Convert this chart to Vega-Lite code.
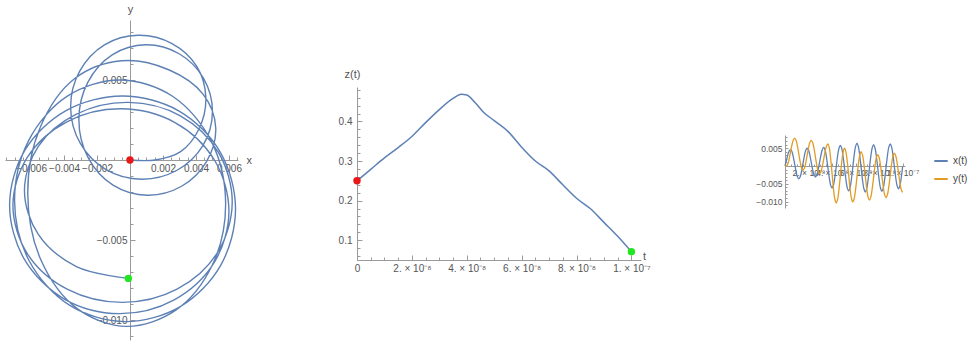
{
  "$schema": "https://vega.github.io/schema/vega-lite/v6.json",
  "padding": {"left": 5, "top": 3, "right": 0, "bottom": 0},
  "spacing": 0,
  "bounds": "flush",
  "config": {
    "view": {"stroke": null},
    "font": "Liberation Sans",
    "axis": {"grid": false, "labelFlush": false, "labelOverlap": false, "domainColor": "#9a9a9a", "tickColor": "#9a9a9a", "labelColor": "#555555", "titleColor": "#555555", "labelFont": "Liberation Sans", "titleFont": "Liberation Sans", "titleFontWeight": "normal", "labelFontSize": 10, "titleFontSize": 11, "tickWidth": 1, "domainWidth": 1},
    "legend": {"labelFont": "Liberation Sans", "labelColor": "#444444"}
  },
  "datasets": {
    "traj": [
      {"t": 0, "x": 0, "y": 0},
      {"t": 1.176e-9, "x": 0.001535, "y": 0},
      {"t": 2.353e-9, "x": 0.00307, "y": 0.00052},
      {"t": 3.529e-9, "x": 0.00419, "y": 0.00195},
      {"t": 4.706e-9, "x": 0.0046, "y": 0.0039},
      {"t": 5.882e-9, "x": 0.00405, "y": 0.00585},
      {"t": 7.059e-9, "x": 0.00255, "y": 0.00728},
      {"t": 8.235e-9, "x": 0.0005, "y": 0.0078},
      {"t": 9.412e-9, "x": -0.00155, "y": 0.0072},
      {"t": 1.059e-8, "x": -0.00305, "y": 0.00555},
      {"t": 1.176e-8, "x": -0.0036, "y": 0.0033},
      {"t": 1.294e-8, "x": -0.00302, "y": 0.00105},
      {"t": 1.412e-8, "x": -0.00145, "y": -0.0006},
      {"t": 1.529e-8, "x": 0.0007, "y": -0.0012},
      {"t": 1.647e-8, "x": 0.00285, "y": -0.00064},
      {"t": 1.765e-8, "x": 0.00442, "y": 0.0009},
      {"t": 1.882e-8, "x": 0.005, "y": 0.003},
      {"t": 2.0e-8, "x": 0.00446, "y": 0.0051},
      {"t": 2.118e-8, "x": 0.00298, "y": 0.00664},
      {"t": 2.235e-8, "x": 0.00095, "y": 0.0072},
      {"t": 2.353e-8, "x": -0.00108, "y": 0.00657},
      {"t": 2.471e-8, "x": -0.00256, "y": 0.00485},
      {"t": 2.588e-8, "x": -0.0031, "y": 0.0025},
      {"t": 2.706e-8, "x": -0.00254, "y": 0.00015},
      {"t": 2.824e-8, "x": -0.00103, "y": -0.00157},
      {"t": 2.941e-8, "x": 0.00105, "y": -0.0022},
      {"t": 3.059e-8, "x": 0.00313, "y": -0.00164},
      {"t": 3.176e-8, "x": 0.00464, "y": -0.0001},
      {"t": 3.294e-8, "x": 0.0052, "y": 0.002},
      {"t": 3.412e-8, "x": 0.00444, "y": 0.0041},
      {"t": 3.529e-8, "x": 0.00235, "y": 0.00564},
      {"t": 3.647e-8, "x": -0.0005, "y": 0.0062},
      {"t": 3.765e-8, "x": -0.00335, "y": 0.00509},
      {"t": 3.882e-8, "x": -0.00544, "y": 0.00205},
      {"t": 4.0e-8, "x": -0.0062, "y": -0.0021},
      {"t": 4.118e-8, "x": -0.0054, "y": -0.00625},
      {"t": 4.235e-8, "x": -0.0032, "y": -0.00929},
      {"t": 4.353e-8, "x": -0.0002, "y": -0.0104},
      {"t": 4.471e-8, "x": 0.0028, "y": -0.00937},
      {"t": 4.588e-8, "x": 0.005, "y": -0.00655},
      {"t": 4.706e-8, "x": 0.0058, "y": -0.0027},
      {"t": 4.824e-8, "x": 0.00494, "y": 0.00115},
      {"t": 4.941e-8, "x": 0.0026, "y": 0.00397},
      {"t": 5.059e-8, "x": -0.0006, "y": 0.005},
      {"t": 5.176e-8, "x": -0.0038, "y": 0.00399},
      {"t": 5.294e-8, "x": -0.00614, "y": 0.00123},
      {"t": 5.412e-8, "x": -0.007, "y": -0.00255},
      {"t": 5.529e-8, "x": -0.0061, "y": -0.00633},
      {"t": 5.647e-8, "x": -0.00365, "y": -0.00909},
      {"t": 5.765e-8, "x": -0.0003, "y": -0.0101},
      {"t": 5.882e-8, "x": 0.00305, "y": -0.00916},
      {"t": 6.0e-8, "x": 0.0055, "y": -0.00658},
      {"t": 6.118e-8, "x": 0.0064, "y": -0.00305},
      {"t": 6.235e-8, "x": 0.00548, "y": 0.00048},
      {"t": 6.353e-8, "x": 0.00298, "y": 0.00306},
      {"t": 6.471e-8, "x": -0.00045, "y": 0.004},
      {"t": 6.588e-8, "x": -0.00388, "y": 0.00309},
      {"t": 6.706e-8, "x": -0.00638, "y": 0.0006},
      {"t": 6.824e-8, "x": -0.0073, "y": -0.0028},
      {"t": 6.941e-8, "x": -0.00641, "y": -0.0062},
      {"t": 7.059e-8, "x": -0.00398, "y": -0.00869},
      {"t": 7.176e-8, "x": -0.00065, "y": -0.0096},
      {"t": 7.294e-8, "x": 0.00268, "y": -0.00874},
      {"t": 7.412e-8, "x": 0.00511, "y": -0.0064},
      {"t": 7.529e-8, "x": 0.006, "y": -0.0032},
      {"t": 7.647e-8, "x": 0.00512, "y": 0},
      {"t": 7.765e-8, "x": 0.00273, "y": 0.00234},
      {"t": 7.882e-8, "x": -0.00055, "y": 0.0032},
      {"t": 8.0e-8, "x": -0.00383, "y": 0.00239},
      {"t": 8.118e-8, "x": -0.00622, "y": 0.00018},
      {"t": 8.235e-8, "x": -0.0071, "y": -0.00285},
      {"t": 8.353e-8, "x": -0.00621, "y": -0.00588},
      {"t": 8.471e-8, "x": -0.00378, "y": -0.00809},
      {"t": 8.588e-8, "x": -0.00045, "y": -0.0089},
      {"t": 8.706e-8, "x": 0.00288, "y": -0.00806},
      {"t": 8.824e-8, "x": 0.00531, "y": -0.00578},
      {"t": 8.941e-8, "x": 0.0062, "y": -0.00265},
      {"t": 9.059e-8, "x": 0.00536, "y": 0.00048},
      {"t": 9.176e-8, "x": 0.00305, "y": 0.00276},
      {"t": 9.294e-8, "x": -0.0001, "y": 0.0036},
      {"t": 9.412e-8, "x": -0.00325, "y": 0.00286},
      {"t": 9.529e-8, "x": -0.00556, "y": 0.00085},
      {"t": 9.647e-8, "x": -0.0064, "y": -0.0019},
      {"t": 9.765e-8, "x": -0.00556, "y": -0.00465},
      {"t": 9.882e-8, "x": -0.00325, "y": -0.00666},
      {"t": 1.0e-7, "x": -0.0001, "y": -0.0074}
    ],
    "zdata": [
      {"t": 0, "z": 0.25},
      {"t": 5e-9, "z": 0.279},
      {"t": 1e-8, "z": 0.308},
      {"t": 1.5e-8, "z": 0.334},
      {"t": 2e-8, "z": 0.362},
      {"t": 2.5e-8, "z": 0.397},
      {"t": 3e-8, "z": 0.43},
      {"t": 3.5e-8, "z": 0.458},
      {"t": 3.8e-8, "z": 0.469},
      {"t": 4e-8, "z": 0.467},
      {"t": 4.3e-8, "z": 0.448},
      {"t": 4.6e-8, "z": 0.424},
      {"t": 5e-8, "z": 0.402},
      {"t": 5.5e-8, "z": 0.375},
      {"t": 6e-8, "z": 0.335},
      {"t": 6.5e-8, "z": 0.3},
      {"t": 7e-8, "z": 0.275},
      {"t": 7.5e-8, "z": 0.24},
      {"t": 8e-8, "z": 0.206},
      {"t": 8.5e-8, "z": 0.18},
      {"t": 9e-8, "z": 0.145},
      {"t": 9.5e-8, "z": 0.11},
      {"t": 1e-7, "z": 0.071}
    ]
  },
  "hconcat": [
    {
      "width": 233,
      "height": 320,
      "encoding": {
        "x": {"field": "x", "type": "quantitative", "scale": {"domain": [-0.00758, 0.00655], "zero": false, "nice": false},
          "axis": {"orient": "bottom", "offset": -180, "labelOverlap": false,
            "values": [-0.0075,-0.007,-0.0065,-0.006,-0.0055,-0.005,-0.0045,-0.004,-0.0035,-0.003,-0.0025,-0.002,-0.0015,-0.001,-0.0005,0.0005,0.001,0.0015,0.002,0.0025,0.003,0.0035,0.004,0.0045,0.005,0.0055,0.006,0.0065],
            "format": ".3f",
            "labelExpr": "round(datum.value*10000) != 0 && round(datum.value*10000) % 20 == 0 ? datum.label : ''",
            "tickSize": {"condition": {"test": "round(datum.value*10000) % 20 == 0", "value": -5}, "value": -3},
            "labelPadding": 8,
            "title": "x", "titleX": 241, "titleY": 0, "titleBaseline": "middle", "titleAlign": "left"}},
        "y": {"field": "y", "type": "quantitative", "scale": {"domain": [-0.01125, 0.00875], "zero": false, "nice": false},
          "axis": {"orient": "left", "offset": -125, "labelOverlap": false,
            "values": [-0.011,-0.01,-0.009,-0.008,-0.007,-0.006,-0.005,-0.004,-0.003,-0.002,-0.001,0.001,0.002,0.003,0.004,0.005,0.006,0.007,0.008],
            "format": ".3f",
            "labelExpr": "round(datum.value*1000) != 0 && round(datum.value*1000) % 5 == 0 ? datum.label : ''",
            "tickSize": {"condition": {"test": "round(datum.value*1000) % 5 == 0", "value": -5}, "value": -3},
            "labelPadding": 8,
            "title": "y", "titleAngle": 0, "titleX": 0, "titleY": -6, "titleBaseline": "bottom", "titleAlign": "center"}}
      },
      "layer": [
        {
          "data": {"name": "traj"},
          "mark": {"type": "line", "interpolate": "catmull-rom", "color": "#5E81B5", "strokeWidth": 1.4},
          "encoding": {"order": {"field": "t", "type": "quantitative"}}
        },
        {
          "data": {"values": [{"x": 0, "y": 0}]},
          "mark": {"type": "circle", "color": "#e81818", "size": 55, "opacity": 1}
        },
        {
          "data": {"values": [{"x": -0.0001, "y": -0.0074}]},
          "mark": {"type": "circle", "color": "#22e622", "size": 55, "opacity": 1}
        }
      ]
    },
    {
      "width": 119, "height": 10,
      "data": {"values": [{"a": 1}]},
      "mark": {"type": "point", "opacity": 0},
      "encoding": {}
    },
    {
      "vconcat": [
        {
          "width": 10, "height": 67,
          "data": {"values": [{"a": 1}]},
          "mark": {"type": "point", "opacity": 0},
          "encoding": {}
        },
        {
          "width": 284,
          "height": 173,
          "encoding": {
            "x": {"field": "t", "type": "quantitative", "scale": {"domain": [0, 1.035e-7], "zero": false, "nice": false},
              "axis": {"orient": "bottom", "labelOverlap": false,
                "values": [0,5e-9,1e-8,1.5e-8,2e-8,2.5e-8,3e-8,3.5e-8,4e-8,4.5e-8,5e-8,5.5e-8,6e-8,6.5e-8,7e-8,7.5e-8,8e-8,8.5e-8,9e-8,9.5e-8,1e-7],
                "labelExpr": "round(datum.value*1e9) == 0 ? '0' : round(datum.value*1e9) == 100 ? '1. × 10⁻⁷' : round(datum.value*1e9) % 20 == 0 ? (round(datum.value*1e9)/10) + '. × 10⁻⁸' : ''",
                "tickSize": {"condition": {"test": "round(datum.value*1e9) % 20 == 0", "value": -5}, "value": -3},
                "labelPadding": 8,
                "title": "t", "titleX": 287, "titleY": -4, "titleBaseline": "middle", "titleAlign": "center"}},
            "y": {"field": "z", "type": "quantitative", "scale": {"domain": [0.05, 0.487], "zero": false, "nice": false},
              "axis": {"orient": "left", "labelOverlap": false,
                "values": [0.06,0.08,0.1,0.12,0.14,0.16,0.18,0.2,0.22,0.24,0.26,0.28,0.3,0.32,0.34,0.36,0.38,0.4,0.42,0.44,0.46,0.48],
                "format": ".1f",
                "labelExpr": "round(datum.value*100) % 10 == 0 ? datum.label : ''",
                "tickSize": {"condition": {"test": "round(datum.value*100) % 10 == 0", "value": -5}, "value": -3},
                "labelPadding": 10,
                "title": "z(t)", "titleAngle": 0, "titleX": -5, "titleY": -13, "titleBaseline": "middle", "titleAlign": "center"}}
          },
          "layer": [
            {
              "data": {"name": "zdata"},
              "mark": {"type": "line", "interpolate": "monotone", "color": "#5E81B5", "strokeWidth": 1.5}
            },
            {
              "data": {"values": [{"t": 0, "z": 0.25}]},
              "mark": {"type": "circle", "color": "#e81818", "size": 55, "opacity": 1}
            },
            {
              "data": {"values": [{"t": 1e-7, "z": 0.071}]},
              "mark": {"type": "circle", "color": "#22e622", "size": 55, "opacity": 1}
            }
          ]
        }
      ],
      "spacing": 0,
      "bounds": "flush"
    },
    {
      "width": 428, "height": 10,
      "data": {"values": [{"a": 1}]},
      "mark": {"type": "point", "opacity": 0},
      "encoding": {}
    },
    {
      "vconcat": [
        {
          "width": 10, "height": 115,
          "data": {"values": [{"a": 1}]},
          "mark": {"type": "point", "opacity": 0},
          "encoding": {}
        },
        {
          "width": 120,
          "height": 73,
          "data": {"name": "traj"},
          "transform": [{"fold": ["x", "y"], "as": ["series", "value"]}],
          "mark": {"type": "line", "interpolate": "catmull-rom", "strokeWidth": 1.3},
          "encoding": {
            "x": {"field": "t", "type": "quantitative", "scale": {"domain": [0, 1.02e-7], "zero": false, "nice": false},
              "axis": {"orient": "bottom", "offset": -42, "labelOverlap": false,
                "values": [5e-9,1e-8,1.5e-8,2e-8,2.5e-8,3e-8,3.5e-8,4e-8,4.5e-8,5e-8,5.5e-8,6e-8,6.5e-8,7e-8,7.5e-8,8e-8,8.5e-8,9e-8,9.5e-8,1e-7],
                "labelExpr": "round(datum.value*1e9) == 100 ? '1. × 10⁻⁷' : round(datum.value*1e9) % 20 == 0 ? (round(datum.value*1e9)/10) + '. × 10⁻⁸' : ''",
                "tickSize": {"condition": {"test": "round(datum.value*1e9) % 20 == 0", "value": -3}, "value": -2},
                "labelPadding": 5, "labelFontSize": 8.5,
                "title": null}},
            "y": {"field": "value", "type": "quantitative", "scale": {"domain": [-0.0118, 0.0087], "zero": false, "nice": false},
              "axis": {"orient": "left", "labelOverlap": false,
                "values": [-0.011,-0.01,-0.009,-0.008,-0.007,-0.006,-0.005,-0.004,-0.003,-0.002,-0.001,0.001,0.002,0.003,0.004,0.005,0.006,0.007,0.008],
                "labelExpr": "round(datum.value*1000) != 0 && round(datum.value*1000) % 5 == 0 ? format(datum.value, '.3f') : ''",
                "tickSize": {"condition": {"test": "round(datum.value*1000) % 5 == 0", "value": -3}, "value": -2},
                "labelPadding": 6, "labelFontSize": 8.5,
                "title": null}},
            "color": {"field": "series", "type": "nominal", "scale": {"domain": ["x", "y"], "range": ["#5E81B5", "#E19C24"]},
              "legend": {"title": null, "orient": "none", "legendX": 928, "legendY": 133, "symbolType": "stroke", "symbolStrokeWidth": 2, "symbolSize": 180, "labelExpr": "datum.label + '(t)'", "labelFontSize": 10, "rowPadding": 5}}
          }
        }
      ],
      "spacing": 0,
      "bounds": "flush"
    }
  ]
}
